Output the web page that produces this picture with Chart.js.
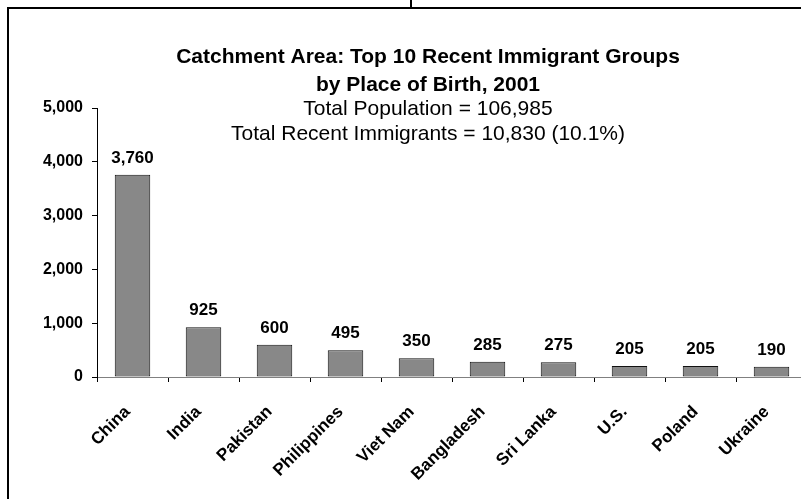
<!DOCTYPE html>
<html>
<head>
<meta charset="utf-8">
<script src="https://cdn.jsdelivr.net/npm/chart.js@4.4.1/dist/chart.umd.min.js"></script>
<style>
  html, body { margin: 0; padding: 0; background: #fff; overflow: hidden; }
  #page { position: relative; width: 801px; height: 499px; overflow: hidden; }
  #frame {
    position: absolute; left: 7px; top: 7px; width: 820px; height: 520px;
    border-left: 2px solid #000; border-top: 2px solid #000;
  }
  #stub { position: absolute; left: 410px; top: 0; width: 2px; height: 8px; background: #000; }
  #wrap { position: absolute; left: 0; top: 0; width: 815px; height: 499px; }
</style>
</head>
<body>
<div id="page">
  <div id="stub"></div>
  <div id="frame"></div>
  <div id="wrap"><canvas id="chart" width="815" height="499"></canvas></div>
</div>
<script>
// place of birth, recent immigrants
const categories = ["China", "India", "Pakistan", "Philippines", "Viet Nam",
  "Bangladesh", "Sri Lanka", "U.S.", "Poland", "Ukraine"];
const immigrants = [3760, 925, 600, 495, 350, 285, 275, 205, 205, 190];
const yTicks = [0, 1000, 2000, 3000, 4000, 5000];

const titleLines = [
  { text: "Catchment Area: Top 10 Recent Immigrant Groups", bold: true, y: 57 },
  { text: "by Place of Birth, 2001", bold: true, y: 85 },
  { text: "Total Population = 106,985", bold: false, y: 109 },
  { text: "Total Recent Immigrants = 10,830 (10.1%)", bold: false, y: 134 }
];

const FONT = "'Liberation Sans', Arial, sans-serif";
const fmt = (v) => v.toLocaleString("en-US");

// titles + value labels drawn on top
const textPlugin = {
  id: "textPlugin",
  afterDatasetsDraw(chart) {
    const ctx = chart.ctx;
    ctx.save();
    ctx.fillStyle = "#000";
    ctx.textAlign = "center";
    ctx.textBaseline = "middle";
    titleLines.forEach((l) => {
      ctx.font = (l.bold ? "bold " : "") + "21px " + FONT;
      ctx.fillText(l.text, 428, l.y);
    });

    ctx.font = "bold 17px " + FONT;
    ctx.textBaseline = "alphabetic";
    chart.getDatasetMeta(0).data.forEach((bar, i) => {
      ctx.fillText(fmt(immigrants[i]), bar.x, bar.y - 12);
    });
    ctx.restore();
  }
};

new Chart(document.getElementById("chart"), {
  type: "bar",
  data: {
    labels: categories,
    datasets: [{
      data: immigrants,
      backgroundColor: "#888888",
      borderColor: "#111",
      borderWidth: 1,
      borderSkipped: false,
      categoryPercentage: 1,
      barPercentage: 0.5
    }]
  },
  options: {
    responsive: false,
    animation: false,
    devicePixelRatio: 1,
    layout: { padding: { top: 108, right: 8, left: 0, bottom: 0 } },
    plugins: {
      legend: { display: false },
      tooltip: { enabled: false }
    },
    scales: {
      x: {
        grid: { offset: true, drawOnChartArea: false, drawTicks: true, tickLength: 5, color: "#000" },
        border: { color: "#808080", width: 1 },
        ticks: {
          color: "#000",
          font: { family: FONT, size: 17, weight: "bold" },
          minRotation: 45,
          maxRotation: 45,
          padding: 20,
          labelOffset: -5
        },
        afterFit: (s) => { s.height = 122; }
      },
      y: {
        min: 0,
        max: 5000,
        afterBuildTicks: (s) => { s.ticks = yTicks.map((v) => ({ value: v })); },
        grid: { drawOnChartArea: false, drawTicks: true, tickLength: 5, color: "#000" },
        border: { color: "#000", width: 1 },
        ticks: {
          color: "#000",
          font: { family: FONT, size: 16, weight: "bold" },
          padding: 9,
          callback: (v) => fmt(v)
        },
        afterFit: (s) => { s.width = 97; }
      }
    }
  },
  plugins: [textPlugin]
});
</script>
</body>
</html>
